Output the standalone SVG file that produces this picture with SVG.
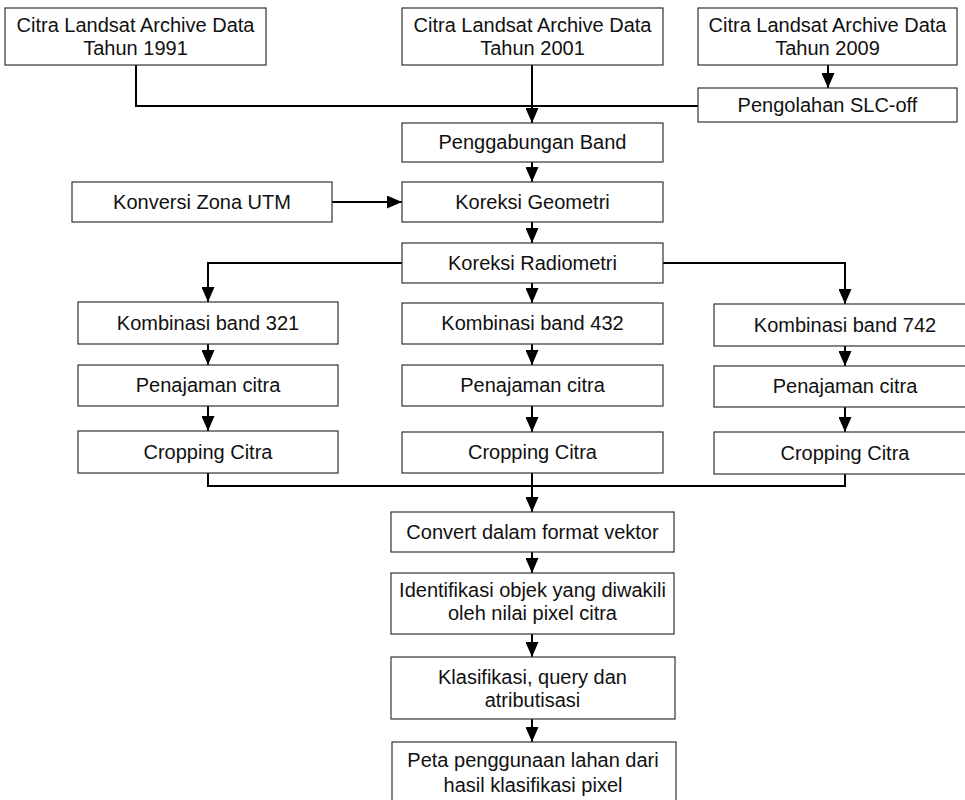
<svg xmlns="http://www.w3.org/2000/svg" width="965" height="800" viewBox="0 0 965 800">
<style>
  .box { fill: #ffffff; stroke: #333333; stroke-width: 1.2; }
  .lbl { font-family: "Liberation Sans", Arial, sans-serif; font-size: 20px; fill: #111111; text-anchor: middle; }
  .con { fill: none; stroke: #000000; stroke-width: 2; }
  .arr { marker-end: url(#ah); }
</style>
<defs>
  <marker id="ah" viewBox="0 0 15 13" refX="15" refY="6.5" markerWidth="15" markerHeight="13" markerUnits="userSpaceOnUse" orient="auto">
    <path d="M0,0 L15,6.5 L0,13 z" fill="#000000"/>
  </marker>
</defs>
<rect width="965" height="800" fill="#ffffff"/>

<g id="connectors">
  <path class="con" d="M136,65 V106 H698"/>
  <path class="con arr" d="M532,65 V123"/>
  <path class="con arr" d="M828,65 V88"/>
  <path class="con arr" d="M532,162 V182"/>
  <path class="con arr" d="M332,202 H402"/>
  <path class="con arr" d="M532,222 V243"/>
  <path class="con arr" d="M402,263 H208 V302"/>
  <path class="con arr" d="M532,283 V303"/>
  <path class="con arr" d="M663,263 H845 V304"/>
  <path class="con arr" d="M208,344 V365"/>
  <path class="con arr" d="M208,406 V431"/>
  <path class="con arr" d="M532,344 V365"/>
  <path class="con arr" d="M532,406 V432"/>
  <path class="con arr" d="M845,346 V366"/>
  <path class="con arr" d="M845,407 V432"/>
  <path class="con" d="M208,473 V486 H845 V474"/>
  <path class="con arr" d="M532,473 V512"/>
  <path class="con arr" d="M532,552 V573"/>
  <path class="con arr" d="M532,634 V657"/>
  <path class="con arr" d="M532,719 V742"/>
</g>

<g id="n1991"><rect class="box" x="5" y="8" width="261" height="57"/><text class="lbl" x="135.5" y="32">Citra Landsat Archive Data</text><text class="lbl" x="135.5" y="55">Tahun 1991</text></g>
<g id="n2001"><rect class="box" x="402" y="8" width="261" height="57"/><text class="lbl" x="532.5" y="32">Citra Landsat Archive Data</text><text class="lbl" x="532.5" y="55">Tahun 2001</text></g>
<g id="n2009"><rect class="box" x="698" y="8" width="259" height="57"/><text class="lbl" x="827.5" y="32">Citra Landsat Archive Data</text><text class="lbl" x="827.5" y="55">Tahun 2009</text></g>
<g id="slc"><rect class="box" x="698" y="88" width="259" height="34"/><text class="lbl" x="827.5" y="112">Pengolahan SLC-off</text></g>
<g id="gabung"><rect class="box" x="402" y="123" width="261" height="39"/><text class="lbl" x="532.5" y="149">Penggabungan Band</text></g>
<g id="konversi"><rect class="box" x="72" y="182" width="260" height="40"/><text class="lbl" x="202" y="209">Konversi Zona UTM</text></g>
<g id="geometri"><rect class="box" x="402" y="182" width="261" height="40"/><text class="lbl" x="532.5" y="209">Koreksi Geometri</text></g>
<g id="radiometri"><rect class="box" x="402" y="243" width="261" height="40"/><text class="lbl" x="532.5" y="270">Koreksi Radiometri</text></g>

<g id="k321"><rect class="box" x="78" y="302" width="260" height="42"/><text class="lbl" x="208" y="330">Kombinasi band 321</text></g>
<g id="p321"><rect class="box" x="78" y="365" width="260" height="41"/><text class="lbl" x="208" y="392">Penajaman citra</text></g>
<g id="c321"><rect class="box" x="78" y="431" width="260" height="42"/><text class="lbl" x="208" y="459">Cropping Citra</text></g>

<g id="k432"><rect class="box" x="402" y="303" width="261" height="41"/><text class="lbl" x="532.5" y="330">Kombinasi band 432</text></g>
<g id="p432"><rect class="box" x="402" y="365" width="261" height="41"/><text class="lbl" x="532.5" y="392">Penajaman citra</text></g>
<g id="c432"><rect class="box" x="402" y="432" width="261" height="41"/><text class="lbl" x="532.5" y="459">Cropping Citra</text></g>

<g id="k742"><rect class="box" x="714" y="304" width="262" height="42"/><text class="lbl" x="845" y="332">Kombinasi band 742</text></g>
<g id="p742"><rect class="box" x="714" y="366" width="262" height="41"/><text class="lbl" x="845" y="393">Penajaman citra</text></g>
<g id="c742"><rect class="box" x="714" y="432" width="262" height="42"/><text class="lbl" x="845" y="460">Cropping Citra</text></g>

<g id="convert"><rect class="box" x="391" y="512" width="283" height="40"/><text class="lbl" x="532.5" y="539">Convert dalam format vektor</text></g>
<g id="identifikasi"><rect class="box" x="391" y="573" width="283" height="61"/><text class="lbl" x="532.5" y="597">Identifikasi objek yang diwakili</text><text class="lbl" x="532.5" y="620">oleh nilai pixel citra</text></g>
<g id="klasifikasi"><rect class="box" x="391" y="657" width="284" height="62"/><text class="lbl" x="532.5" y="684">Klasifikasi, query dan</text><text class="lbl" x="532.5" y="707">atributisasi</text></g>
<g id="peta"><rect class="box" x="392" y="742" width="284" height="70"/><text class="lbl" x="533" y="767">Peta penggunaan lahan dari</text><text class="lbl" x="533" y="792">hasil klasifikasi pixel</text></g>
</svg>
